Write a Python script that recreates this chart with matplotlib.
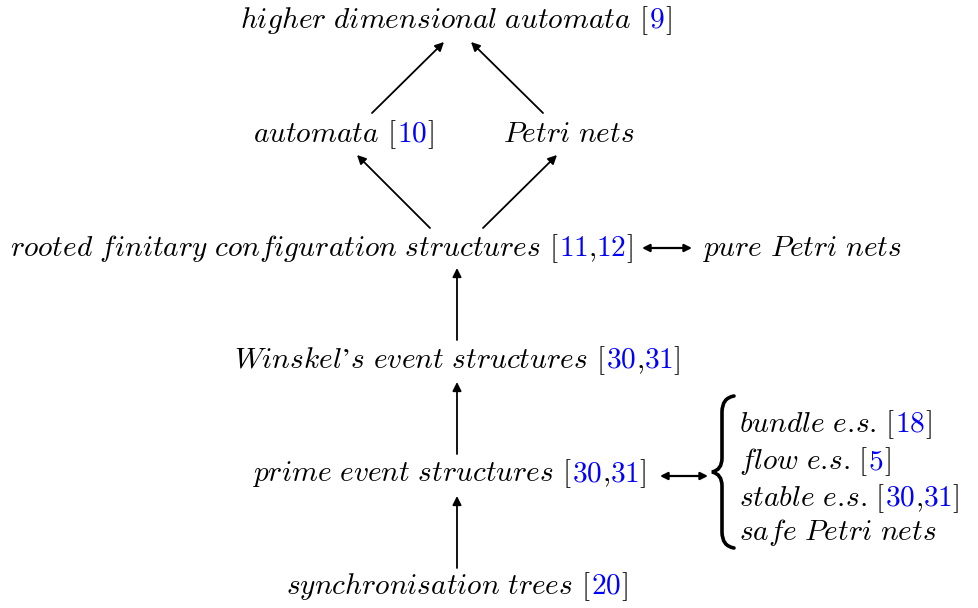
import matplotlib
matplotlib.use('Agg')
import matplotlib.pyplot as plt
from matplotlib.path import Path
from matplotlib.patches import PathPatch

plt.rcParams['mathtext.fontset'] = 'cm'

W, H = 979, 608
BLUE = '#0000ff'
FS = 21.2

# node labels: (text, citations, anchor x, baseline y, alignment)
nodes = [
    ("higher dimensional automata", ["9"], 456, 28, 'center'),
    ("automata", ["10"], 343, 142, 'center'),
    ("Petri nets", [], 569, 142, 'center'),
    ("rooted finitary configuration structures", ["11", "12"], 10, 256, 'left'),
    ("pure Petri nets", [], 702, 256, 'left'),
    ("Winskel\u2019s event structures", ["30", "31"], 457, 368, 'center'),
    ("prime event structures", ["30", "31"], 449, 481, 'center'),
    ("synchronisation trees", ["20"], 457, 594, 'center'),
]
# items inside the brace
brace_items = [
    ("bundle e.s.", ["18"]),
    ("flow e.s.", ["5"]),
    ("stable e.s.", ["30", "31"]),
    ("safe Petri nets", []),
]
brace_baselines = [432, 469, 506, 540]

# arrows (tail -> head)
arrows = [
    ((372, 113), (444, 42)),
    ((543, 113), (471, 42)),
    ((430, 228), (357, 155)),
    ((483, 228), (557, 155)),
    ((457, 340), (457, 268)),
    ((457, 454), (457, 382)),
    ((457, 568), (457, 496)),
]
double_arrows = [
    ((642, 248), (692, 248)),
    ((660, 476), (708, 476)),
]

fig = plt.figure(figsize=(W / 100, H / 100), dpi=100)
ax = fig.add_axes([0, 0, 1, 1])
ax.set_xlim(0, W)
ax.set_ylim(H, 0)
ax.axis('off')
renderer = fig.canvas.get_renderer()


def it(s):
    s = s.replace(' ', r'\ ').replace('.', r'.\!')
    return r'$\mathit{' + s + '}$'


def rm(s):
    return r'$\mathrm{' + s + '}$'


def make_runs(text, refs):
    runs = [(it(text), 'k')]
    if refs:
        runs.append((rm(r'\ ['), 'k'))
        for i, r in enumerate(refs):
            if i:
                runs.append((rm('{,}'), 'k'))
            runs.append((rm(r), BLUE))
        runs.append((rm(']'), 'k'))
    return runs


def place(runs, x, y, align):
    arts = []
    widths = []
    for s, c in runs:
        t = ax.text(0, y, s, color=c, fontsize=FS, ha='left', va='baseline')
        bb = t.get_window_extent(renderer)
        arts.append(t)
        widths.append(bb.width)
    total = sum(widths)
    x0 = x - total / 2 if align == 'center' else x
    for t, w in zip(arts, widths):
        t.set_x(x0)
        x0 += w


for text, refs, x, y, align in nodes:
    place(make_runs(text, refs), x, y, align)

for (text, refs), y in zip(brace_items, brace_baselines):
    place(make_runs(text, refs), 739, y, 'left')

for tail, head in arrows:
    ax.annotate('', xy=head, xytext=tail,
                arrowprops=dict(arrowstyle='-|>', color='k', lw=1.3,
                                mutation_scale=13, shrinkA=0, shrinkB=0))
for a, b in double_arrows:
    ax.annotate('', xy=b, xytext=a,
                arrowprops=dict(arrowstyle='<|-|>', color='k', lw=1.6,
                                mutation_scale=11, shrinkA=0, shrinkB=0))

# curly brace
top, mid, bot = 396, 472, 548
verts = [(734, top), (722, top + 2), (722, top + 16),
         (722, mid - 14), (722, mid - 2), (712, mid),
         (722, mid + 2), (722, mid + 14),
         (722, bot - 16), (722, bot - 2), (734, bot)]
codes = [Path.MOVETO, Path.CURVE3, Path.CURVE3,
         Path.LINETO, Path.CURVE3, Path.CURVE3,
         Path.CURVE3, Path.CURVE3,
         Path.LINETO, Path.CURVE3, Path.CURVE3]
ax.add_patch(PathPatch(Path(verts, codes), fill=False, lw=2.6, color='k',
                       capstyle='round'))

fig.savefig('out.png', dpi=100)
